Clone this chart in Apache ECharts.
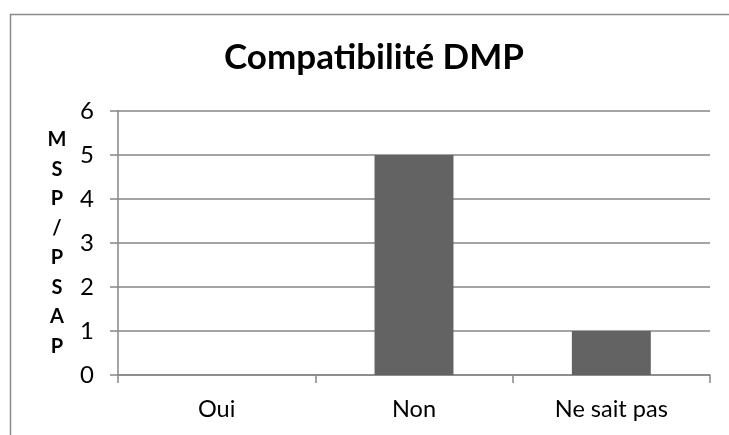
<!DOCTYPE html>
<html><head><meta charset="utf-8">
<script src="https://cdn.jsdelivr.net/npm/echarts@6/dist/echarts.min.js"></script>
<style>html,body{margin:0;padding:0;background:#fff}#c{width:729px;height:435px}</style>
</head><body><div id="c"></div>
<script>
var titleText = 'Compatibilité DMP';
var categories = ['Oui', 'Non', 'Ne sait pas'];
var values = [0, 5, 1];
var yTicks = { min: 0, max: 6, interval: 1 };
var yName = 'MSP/PSAP';

var font = 'Lato, "Open Sans", sans-serif';
var chart = echarts.init(document.getElementById('c'), null, { renderer: 'canvas' });
chart.setOption({
  animation: false,
  backgroundColor: '#fff',
  graphic: [{
    type: 'rect', left: 8, top: 12, silent: true,
    shape: { width: 900, height: 600 },
    style: { fill: 'none', stroke: '#8a8a8a', lineWidth: 1.5 }
  }],
  title: {
    text: titleText, left: 369, top: 35, textAlign: 'center',
    textStyle: { fontFamily: font, fontWeight: 'bold', fontSize: 35, color: '#000' }
  },
  grid: { left: 118, right: 19, top: 111, bottom: 60, containLabel: false },
  xAxis: {
    type: 'category', data: categories,
    axisLine: { lineStyle: { color: '#868686', width: 1.5 } },
    axisTick: { show: true, length: 8, alignWithLabel: false, lineStyle: { color: '#868686', width: 1.5 } },
    axisLabel: { fontFamily: font, fontSize: 23.5, color: '#000', margin: 22 }
  },
  yAxis: {
    type: 'value', min: yTicks.min, max: yTicks.max, interval: yTicks.interval,
    name: yName.split('').join('\n'),
    nameLocation: 'middle', nameRotate: 0, nameGap: 61,
    nameTextStyle: { fontFamily: font, fontWeight: 'bold', fontSize: 20, lineHeight: 29.5, color: '#000', align: 'center', verticalAlign: 'middle' },
    axisLine: { show: true, lineStyle: { color: '#868686', width: 1.5 } },
    axisTick: { show: true, length: 8, lineStyle: { color: '#868686', width: 1.5 } },
    axisLabel: { fontFamily: font, fontSize: 24, color: '#000', margin: 24 },
    splitLine: { show: true, lineStyle: { color: '#868686', width: 1.5 } }
  },
  series: [{
    type: 'bar', data: values, barWidth: '40%',
    itemStyle: { color: '#636363' }
  }]
});
</script></body></html>
